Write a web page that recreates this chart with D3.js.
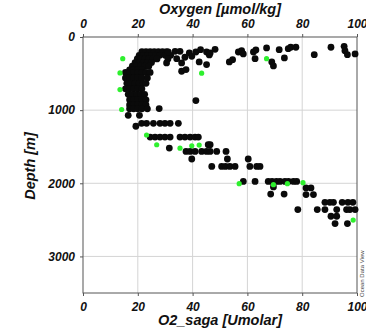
<!DOCTYPE html>
<html>
<head>
<meta charset="utf-8">
<script src="https://cdn.jsdelivr.net/npm/d3@7"></script>
<style>
  html, body { margin: 0; padding: 0; background: #fff; }
  svg { display: block; }
  text { font-family: "Liberation Sans", Arial, sans-serif; font-weight: bold; font-style: italic; }
</style>
</head>
<body>
<svg id="chart" width="366" height="331"></svg>
<script>
// Oxygen profile: [depth (m), oxygen (µmol/kg)]
const oxygenObs = [
  [200,21.5],[200,23],[200,24.5],[200,26],[200,27.5],[200,29],[200,30.5],
  [250,20.5],[250,22],[250,23.5],[250,25],[250,26.5],[250,28],[250,30],[250,32],
  [300,19.8],[300,21],[300,22.5],[300,24],[300,25.5],[300,27],[300,31],
  [350,19],[350,20.5],[350,22],[350,23.5],[350,25],
  [400,18],[400,19.5],[400,21],[400,22.5],[400,24],
  [450,17],[450,18.5],[450,20],[450,21.5],
  [484,15.5],[484,17],[484,18.5],[484,20],[484,21.5],[484,23],[484,24.5],
  [559,15.5],[559,17],[559,18.5],[559,20],[559,21.5],[559,23.5],
  [634,16],[634,17.5],[634,19],[634,20.5],[634,22],[634,23],
  [709,15.5],[709,17],[709,18.5],[709,20],[709,21.5],
  [784,16.5],[784,18],[784,19.5],[784,21],[784,22.5],
  [859,17],[859,18.5],[859,20],[859,21.5],[859,23],
  [928,17],[928,18.5],[928,20],[928,21.5],[928,23],
  [982,17],[982,18.5],[982,20],[982,21.5],[982,23.5],
  [1071,16.5],[1071,20.6],
  [1180,21.4],[1180,23.2],[1180,25.7],[1180,28.1],[1180,29.9],[1180,31.8],[1180,34.8],
  [1220,19.3],
  [1368,24.5],[1368,26.3],[1368,28.1],[1368,29.9],[1368,31.8],[1368,35.4],[1368,37.2],[1368,39.1],[1368,40.9],[1368,42.1],
  [1473,45.7],[1473,46.4],[1518,31.5],
  [1565,37.6],[1565,39.1],[1565,40.9],[1565,43.3],[1565,45.1],[1565,46.4],[1565,48.8],[1565,52.2],
  [1668,39.7],[1668,52.7],[1668,60.3],
  [1769,47],[1769,50.6],[1769,52],[1769,53.6],[1769,55.5],[1769,60.9],[1769,63.4],[1769,64.6],
  [1974,58.5],[1974,62.8],[1974,67.6],[1974,69],[1974,70.6],[1974,71.9],[1974,73.7],[1974,75],[1974,76.8],[1974,78],
  [2050,69.5],[2148,68.5],[2148,73.4],
  [2064,81.4],[2064,83.2],[2155,81.4],[2155,84.1],
  [2260,88.3],[2260,90.1],[2260,91.4],[2260,94.6],[2260,96.7],[2260,98.5],
  [2360,78.4],[2360,85.5],[2360,88.3],[2360,92.6],[2360,96.2],[2360,97.4],[2360,99.3],
  [2451,90.5],[2451,92.6],[2551,92],[2551,96.5],
  [205,31.1],[355,30.5],[196,33.6],[196,35.4],[296,34.2],[355,36],[277,37.2],[218,38.8],
  [264,39.7],[205,41.2],[341,42.4],[173,42.9],[205,45.1],[377,45.1],[245,46.1],[218,46.4],
  [168,48.2],[468,36],[446,37.6],[869,41.2],[978,27.8],
  [341,53.4],[310,54.6],[205,56.7],[187,57.9],[232,58.5],[205,62.2],[177,63.1],[296,62.8],
  [150,67],[341,68.9],[396,69.5],[173,71.6],[286,73.5],[160,74.9],[140,75.8],[140,77.7],
  [241,84.4],[140,90.5],[127,95.3],[187,95.6],[241,96.5],[232,99.3]
];

// O2_saga profile: [depth (m), O2 (Umolar)]
const sagaObs = [
  [296,14.5],[491,13.5],[719,13.5],[991,14.1],[296,67],[495,43.3],
  [1340,23.2],[1473,26.9],[1520,35.4],[1487,39.7],[1477,42.4],
  [2005,57],[2019,69.5],[2005,74.6],[1992,80.3],[2503,98.6]
];

const oxygenTicks = [0, 20, 40, 60, 80, 100];
const depthTicks = [0, 1000, 2000, 3000];

const svg = d3.select("#chart");
const x = d3.scaleLinear().domain([0, 100]).range([83, 357]);
const y = d3.scaleLinear().domain([0, 3500]).range([37, 293]);

// grid
const grid = svg.append("g").attr("stroke", "#d4d4d4").attr("stroke-width", 1);
grid.selectAll("line.v").data(oxygenTicks.slice(1, -1)).join("line")
  .attr("x1", d => x(d)).attr("x2", d => x(d)).attr("y1", y(0)).attr("y2", y(3500));
grid.selectAll("line.h").data(depthTicks.slice(1)).join("line")
  .attr("y1", d => y(d)).attr("y2", d => y(d)).attr("x1", x(0)).attr("x2", x(100));

// frame
svg.append("rect")
  .attr("x", x(0)).attr("y", y(0))
  .attr("width", x(100) - x(0)).attr("height", y(3500) - y(0))
  .attr("fill", "none").attr("stroke", "#555").attr("stroke-width", 1);

function styleAxis(g) {
  g.select(".domain").remove();
  g.selectAll(".tick line").attr("stroke", "#555");
  g.selectAll(".tick text").attr("fill", "#111")
    .style("font-size", "12px").style("font-weight", "bold").style("font-style", "italic")
    .style("font-family", '"Liberation Sans", Arial, sans-serif');
}

svg.append("g").attr("transform", `translate(0,${y(0)})`)
  .call(d3.axisTop(x).tickValues(oxygenTicks).tickSize(3).tickPadding(6).tickFormat(d3.format("d")))
  .call(styleAxis);
svg.append("g").attr("transform", `translate(0,${y(3500)})`)
  .call(d3.axisBottom(x).tickValues(oxygenTicks).tickSize(3).tickPadding(6).tickFormat(d3.format("d")))
  .call(styleAxis);
svg.append("g").attr("transform", `translate(${x(0)},0)`)
  .call(d3.axisLeft(y).tickValues(depthTicks).tickSize(3).tickPadding(5).tickFormat(d3.format("d")))
  .call(styleAxis);

// points
svg.append("g").selectAll("circle").data(oxygenObs).join("circle")
  .attr("cx", d => x(d[1])).attr("cy", d => y(d[0])).attr("r", 3.4)
  .attr("fill", "#0a0a0a");
svg.append("g").selectAll("circle").data(sagaObs).join("circle")
  .attr("cx", d => x(d[1])).attr("cy", d => y(d[0])).attr("r", 2.6)
  .attr("fill", "#2ef02e");

// titles
svg.append("text").attr("x", 220).attr("y", 14).attr("text-anchor", "middle")
  .style("font-size", "14.5px").attr("fill", "#111").text("Oxygen [µmol/kg]");
svg.append("text").attr("x", 220).attr("y", 325).attr("text-anchor", "middle")
  .style("font-size", "14.5px").attr("fill", "#111").text("O2_saga [Umolar]");
svg.append("text").attr("transform", "translate(35,166) rotate(-90)").attr("text-anchor", "middle")
  .style("font-size", "14.5px").attr("fill", "#111").text("Depth [m]");

// program credit
svg.append("text").attr("transform", "translate(364,297) rotate(-90)")
  .style("font-size", "6px").style("font-style", "normal").style("font-weight", "normal")
  .attr("fill", "#444").text("Ocean Data View");
</script>
</body>
</html>
